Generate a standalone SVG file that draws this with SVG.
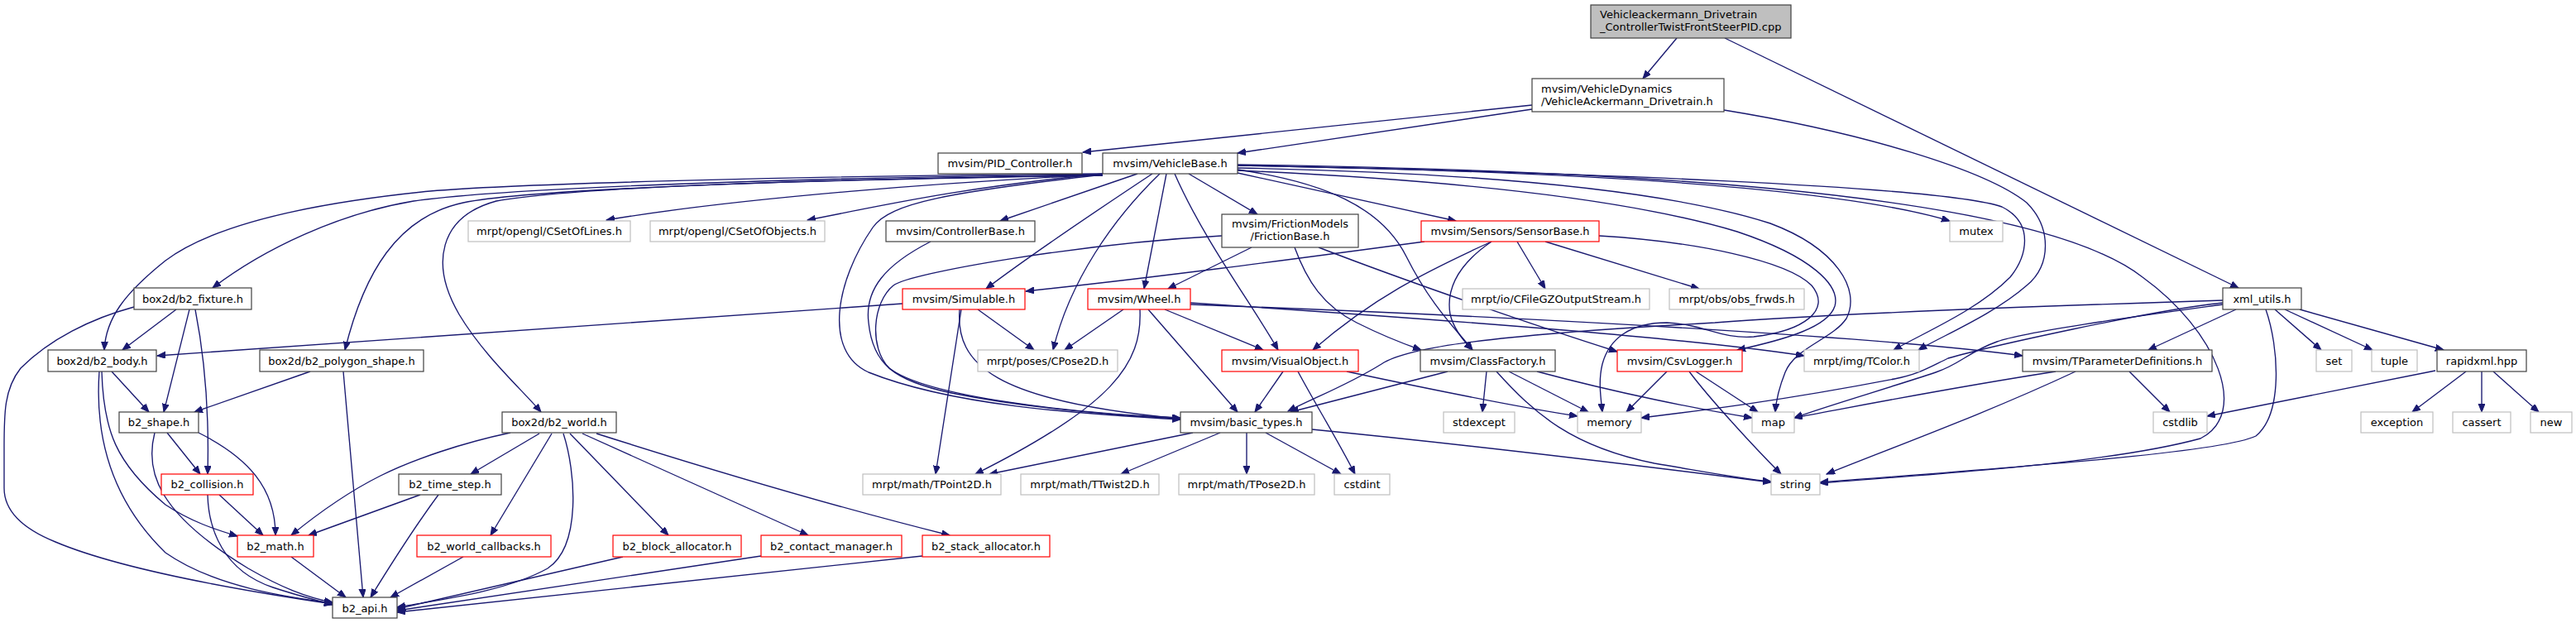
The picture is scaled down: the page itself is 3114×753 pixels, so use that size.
<svg xmlns="http://www.w3.org/2000/svg" width="3114" height="753" viewBox="0 0 3114 753">
<style>
.n rect{fill:#fff;stroke-width:1.2}
.k rect{stroke:#404040}
.r rect{stroke:#ff0000}
.g rect{stroke:#bfbfbf}
.root rect{fill:#bfbfbf;stroke:#404040}
text{font-family:"DejaVu Sans",sans-serif;font-size:13px;fill:#000;text-anchor:middle}
.l text{text-anchor:start}
.e path{fill:none;stroke:#191970;stroke-width:1.35;marker-end:url(#a)}
</style>
<defs>
<marker id="a" markerUnits="userSpaceOnUse" markerWidth="11" markerHeight="9" refX="10" refY="4" orient="auto" viewBox="0 0 11 9">
<path d="M0,0 L10,4 L0,8 z" fill="#191970" stroke="#191970" stroke-width="1"/>
</marker>
</defs>
<rect width="3114" height="753" fill="#fff"/>
<g class="e" id="edges">
<path d="M2027,46 L1986,95"/>
<path d="M2085,46 L2706,348"/>
<path d="M1852,127 L1309,184"/>
<path d="M1852,132 L1496,185"/>
<path d="M2084,133 C2250,160 2400,205 2450,245 C2480,275 2480,320 2450,345 C2410,380 2350,405 2319,423"/>
<path d="M1333,211 C1000,214 620,226 500,243 C410,258 320,300 257,348"/>
<path d="M1333,210 C1000,212 620,222 520,231 C380,245 260,270 200,315 C150,355 128,385 126,423"/>
<path d="M1333,212 C1000,216 640,228 560,245 C480,262 440,330 417,423"/>
<path d="M1333,212 C1000,217 700,225 600,243 C530,262 520,320 555,380 C585,430 630,470 654,498"/>
<path d="M1333,211 C1150,220 900,238 733,266"/>
<path d="M1333,210 C1150,228 1060,250 976,266"/>
<path d="M1375,210 L1209,267"/>
<path d="M1393,210 C1325,255 1250,305 1192,349"/>
<path d="M1410,210 L1383,349"/>
<path d="M1437,210 L1520,259"/>
<path d="M1402,210 C1345,265 1293,340 1273,423"/>
<path d="M1420,210 C1455,290 1515,370 1545,423"/>
<path d="M1333,211 C1150,232 1075,245 1055,275 C1010,340 995,425 1050,450 C1150,490 1300,500 1427,507"/>
<path d="M1496,205 C1600,220 1670,250 1700,310 C1730,370 1762,400 1780,423"/>
<path d="M1496,209 L1760,267"/>
<path d="M1496,200 C1800,205 2200,220 2357,267"/>
<path d="M1496,199 C1900,205 2450,225 2590,335 C2680,400 2720,500 2660,530 C2550,560 2350,572 2200,584"/>
<path d="M1496,200 C1900,208 2350,225 2420,250 C2460,270 2450,310 2430,335 C2390,375 2330,400 2289,423"/>
<path d="M1496,203 C1750,208 2000,225 2140,270 C2220,300 2250,350 2232,385 C2215,410 2170,420 2158,450 C2150,470 2147,485 2146,498"/>
<path d="M1496,206 C1700,215 1950,235 2100,280 C2190,310 2225,345 2218,370 C2210,395 2160,410 2100,423"/>
<path d="M1933,285 C2050,292 2160,315 2190,345 C2215,375 2180,400 2120,407 C2080,410 2060,392 2015,390 C1970,390 1945,410 1937,440 C1932,460 1935,480 1937,498"/>
<path d="M1125,292 C1070,320 1045,350 1050,390 C1055,440 1080,460 1150,475 C1250,495 1350,502 1427,506"/>
<path d="M1513,299 L1412,349"/>
<path d="M1477,285 C1300,295 1100,330 1080,345 C1055,365 1050,420 1075,445 C1120,480 1300,500 1427,505"/>
<path d="M1565,299 C1580,340 1600,370 1640,390 C1670,405 1695,415 1718,423"/>
<path d="M1594,299 C1700,340 1860,395 1955,425"/>
<path d="M1722,292 C1550,315 1400,335 1240,352"/>
<path d="M1803,292 C1720,330 1660,360 1587,423"/>
<path d="M1803,292 C1762,320 1748,350 1753,380 C1758,400 1772,415 1780,423"/>
<path d="M1834,292 L1868,349"/>
<path d="M1868,292 L2054,349"/>
<path d="M1091,367 L190,430"/>
<path d="M1182,374 L1250,423"/>
<path d="M1162,374 L1131,573"/>
<path d="M1160,374 C1155,440 1200,485 1427,506"/>
<path d="M1358,374 L1287,423"/>
<path d="M1378,374 C1381,440 1345,490 1179,573"/>
<path d="M1388,374 L1496,498"/>
<path d="M1408,374 L1527,423"/>
<path d="M1439,366 C1800,390 2050,410 2181,430"/>
<path d="M1439,368 C1900,385 2300,410 2445,430"/>
<path d="M1551,449 L1517,498"/>
<path d="M1628,449 C1750,475 1855,495 1907,503"/>
<path d="M1569,449 C1591,490 1616,530 1638,573"/>
<path d="M1442,523 L1196,573"/>
<path d="M1475,523 L1355,573"/>
<path d="M1507,523 L1507,573"/>
<path d="M1530,523 L1621,573"/>
<path d="M1586,519 C1800,540 2000,565 2141,583"/>
<path d="M1750,449 L1560,498"/>
<path d="M1797,449 L1792,498"/>
<path d="M1824,449 L1920,498"/>
<path d="M1858,449 C1955,475 2055,495 2118,505"/>
<path d="M1809,449 C1855,500 1900,540 2000,560 C2060,570 2100,578 2141,582"/>
<path d="M2015,449 L1966,498"/>
<path d="M2050,449 L2125,498"/>
<path d="M2042,449 C2065,480 2120,540 2153,573"/>
<path d="M2485,449 C2350,470 2250,490 2169,505"/>
<path d="M2509,449 C2400,500 2290,540 2208,573"/>
<path d="M2574,449 L2623,498"/>
<path d="M2703,374 L2597,423"/>
<path d="M2750,374 L2806,423"/>
<path d="M2762,374 L2868,423"/>
<path d="M2780,374 L2954,423"/>
<path d="M2739,374 C2755,420 2760,500 2727,527 C2690,545 2500,560 2200,583"/>
<path d="M2687,368 C2600,380 2450,400 2414,413 C2380,425 2370,440 2340,450 C2280,470 2210,490 2169,505"/>
<path d="M2687,366 C2600,375 2400,420 2355,433 C2330,445 2320,452 2290,458 C2150,485 2050,497 1984,505"/>
<path d="M2687,363 C2400,372 2200,380 2073,390 C1800,405 1700,420 1670,440 C1630,465 1590,480 1557,497"/>
<path d="M2944,448 L2668,503"/>
<path d="M2981,449 L2916,498"/>
<path d="M3000,449 L3000,498"/>
<path d="M3014,449 L3069,498"/>
<path d="M213,374 L148,423"/>
<path d="M229,374 L198,498"/>
<path d="M236,374 C247,430 253,500 251,573"/>
<path d="M162,371 C110,385 60,410 25,445 C5,470 5,500 5,540 L5,590 C5,620 30,640 67,655 C150,690 300,715 402,730"/>
<path d="M135,449 L180,498"/>
<path d="M123,449 C125,520 140,560 200,610 C230,630 260,640 287,648"/>
<path d="M120,449 C115,520 130,600 200,668 C260,710 350,722 402,729"/>
<path d="M375,449 L235,498"/>
<path d="M415,449 L439,722"/>
<path d="M202,523 L242,573"/>
<path d="M240,523 C300,553 333,590 333,647"/>
<path d="M187,523 C175,570 190,620 300,687 C340,710 370,722 402,728"/>
<path d="M265,598 L318,647"/>
<path d="M251,598 C252,640 270,690 330,710 C360,720 385,726 402,731"/>
<path d="M352,673 L418,722"/>
<path d="M617,523 C560,535 500,555 460,575 C420,595 385,620 352,647"/>
<path d="M652,524 L569,573"/>
<path d="M667,524 L593,647"/>
<path d="M681,524 C696,570 703,660 662,687 C612,715 530,725 480,734"/>
<path d="M689,524 L808,647"/>
<path d="M704,524 L977,647"/>
<path d="M721,524 C850,565 1000,610 1148,647"/>
<path d="M508,598 L373,647"/>
<path d="M530,598 C510,625 480,670 448,722"/>
<path d="M560,673 L472,722"/>
<path d="M753,673 L480,736"/>
<path d="M920,672 L480,738"/>
<path d="M1115,672 L480,740"/>
</g>
<g id="root" class="n root l"><rect x="1923" y="6" width="242" height="40"/><text x="1934" y="22">Vehicleackermann_Drivetrain</text><text x="1934" y="37">_ControllerTwistFrontSteerPID.cpp</text></g>
<g id="vad" class="n k l"><rect x="1852" y="95" width="232" height="40"/><text x="1863" y="112">mvsim/VehicleDynamics</text><text x="1863" y="127">/VehicleAckermann_Drivetrain.h</text></g>
<g id="pid" class="n k"><rect x="1134" y="185" width="174" height="25"/><text x="1221" y="202">mvsim/PID_Controller.h</text></g>
<g id="vb" class="n k"><rect x="1333" y="185" width="163" height="25"/><text x="1414.5" y="202">mvsim/VehicleBase.h</text></g>
<g id="cslines" class="n g"><rect x="566" y="267" width="196" height="25"/><text x="664" y="284">mrpt/opengl/CSetOfLines.h</text></g>
<g id="csobj" class="n g"><rect x="786" y="267" width="211" height="25"/><text x="891.5" y="284">mrpt/opengl/CSetOfObjects.h</text></g>
<g id="ctrl" class="n k"><rect x="1071" y="267" width="180" height="25"/><text x="1161" y="284">mvsim/ControllerBase.h</text></g>
<g id="fric" class="n k"><rect x="1477" y="259" width="165" height="40"/><text x="1559.5" y="275">mvsim/FrictionModels</text><text x="1559.5" y="290">/FrictionBase.h</text></g>
<g id="sensor" class="n r"><rect x="1718" y="267" width="215" height="25"/><text x="1825.5" y="284">mvsim/Sensors/SensorBase.h</text></g>
<g id="mutex" class="n g"><rect x="2357" y="267" width="64" height="25"/><text x="2389" y="284">mutex</text></g>
<g id="fixture" class="n k"><rect x="162" y="348" width="142" height="26"/><text x="233" y="366">box2d/b2_fixture.h</text></g>
<g id="simul" class="n r"><rect x="1091" y="349" width="148" height="25"/><text x="1165" y="366">mvsim/Simulable.h</text></g>
<g id="wheel" class="n r"><rect x="1315" y="349" width="124" height="25"/><text x="1377" y="366">mvsim/Wheel.h</text></g>
<g id="gz" class="n g"><rect x="1768" y="349" width="226" height="25"/><text x="1881" y="366">mrpt/io/CFileGZOutputStream.h</text></g>
<g id="obs" class="n g"><rect x="2018" y="349" width="163" height="25"/><text x="2099.5" y="366">mrpt/obs/obs_frwds.h</text></g>
<g id="xml" class="n k"><rect x="2687" y="348" width="95" height="26"/><text x="2734.5" y="366">xml_utils.h</text></g>
<g id="body" class="n k"><rect x="58" y="423" width="131" height="26"/><text x="123.5" y="441">box2d/b2_body.h</text></g>
<g id="poly" class="n k"><rect x="314" y="423" width="198" height="26"/><text x="413" y="441">box2d/b2_polygon_shape.h</text></g>
<g id="cpose" class="n g"><rect x="1182" y="423" width="169" height="26"/><text x="1266.5" y="441">mrpt/poses/CPose2D.h</text></g>
<g id="visual" class="n r"><rect x="1477" y="423" width="165" height="26"/><text x="1559.5" y="441">mvsim/VisualObject.h</text></g>
<g id="classf" class="n k"><rect x="1717" y="423" width="163" height="26"/><text x="1798.5" y="441">mvsim/ClassFactory.h</text></g>
<g id="csv" class="n r"><rect x="1955" y="423" width="151" height="26"/><text x="2030.5" y="441">mvsim/CsvLogger.h</text></g>
<g id="tcolor" class="n g"><rect x="2181" y="423" width="139" height="26"/><text x="2250.5" y="441">mrpt/img/TColor.h</text></g>
<g id="tparam" class="n k"><rect x="2445" y="423" width="229" height="26"/><text x="2559.5" y="441">mvsim/TParameterDefinitions.h</text></g>
<g id="set" class="n g"><rect x="2800" y="423" width="43" height="26"/><text x="2821.5" y="441">set</text></g>
<g id="tuple" class="n g"><rect x="2867" y="423" width="55" height="26"/><text x="2894.5" y="441">tuple</text></g>
<g id="rapid" class="n k"><rect x="2946" y="423" width="108" height="26"/><text x="3000" y="441">rapidxml.hpp</text></g>
<g id="shape" class="n k"><rect x="144" y="498" width="96" height="25"/><text x="192" y="515">b2_shape.h</text></g>
<g id="world" class="n k"><rect x="607" y="498" width="138" height="25"/><text x="676" y="515">box2d/b2_world.h</text></g>
<g id="basic" class="n k"><rect x="1427" y="498" width="159" height="25"/><text x="1506.5" y="515">mvsim/basic_types.h</text></g>
<g id="stdexc" class="n g"><rect x="1745" y="498" width="86" height="25"/><text x="1788" y="515">stdexcept</text></g>
<g id="memory" class="n g"><rect x="1907" y="498" width="77" height="25"/><text x="1945.5" y="515">memory</text></g>
<g id="map" class="n g"><rect x="2118" y="498" width="51" height="25"/><text x="2143.5" y="515">map</text></g>
<g id="cstdlib" class="n g"><rect x="2603" y="498" width="65" height="25"/><text x="2635.5" y="515">cstdlib</text></g>
<g id="exception" class="n g"><rect x="2854" y="498" width="87" height="25"/><text x="2897.5" y="515">exception</text></g>
<g id="cassert" class="n g"><rect x="2965" y="498" width="70" height="25"/><text x="3000" y="515">cassert</text></g>
<g id="new" class="n g"><rect x="3059" y="498" width="50" height="25"/><text x="3084" y="515">new</text></g>
<g id="collision" class="n r"><rect x="195" y="573" width="111" height="25"/><text x="250.5" y="590">b2_collision.h</text></g>
<g id="timestep" class="n k"><rect x="482" y="573" width="124" height="25"/><text x="544" y="590">b2_time_step.h</text></g>
<g id="tpoint" class="n g"><rect x="1043" y="573" width="167" height="25"/><text x="1126.5" y="590">mrpt/math/TPoint2D.h</text></g>
<g id="ttwist" class="n g"><rect x="1234" y="573" width="167" height="25"/><text x="1317.5" y="590">mrpt/math/TTwist2D.h</text></g>
<g id="tpose" class="n g"><rect x="1425" y="573" width="164" height="25"/><text x="1507" y="590">mrpt/math/TPose2D.h</text></g>
<g id="cstdint" class="n g"><rect x="1613" y="573" width="67" height="25"/><text x="1646.5" y="590">cstdint</text></g>
<g id="string" class="n g"><rect x="2141" y="573" width="59" height="25"/><text x="2170.5" y="590">string</text></g>
<g id="math" class="n r"><rect x="287" y="647" width="92" height="26"/><text x="333" y="665">b2_math.h</text></g>
<g id="callbacks" class="n r"><rect x="504" y="647" width="162" height="26"/><text x="585" y="665">b2_world_callbacks.h</text></g>
<g id="block" class="n r"><rect x="741" y="647" width="155" height="26"/><text x="818.5" y="665">b2_block_allocator.h</text></g>
<g id="contact" class="n r"><rect x="920" y="647" width="170" height="26"/><text x="1005" y="665">b2_contact_manager.h</text></g>
<g id="stack" class="n r"><rect x="1115" y="647" width="154" height="26"/><text x="1192" y="665">b2_stack_allocator.h</text></g>
<g id="api" class="n k"><rect x="402" y="722" width="78" height="25"/><text x="441" y="740">b2_api.h</text></g>
</svg>
